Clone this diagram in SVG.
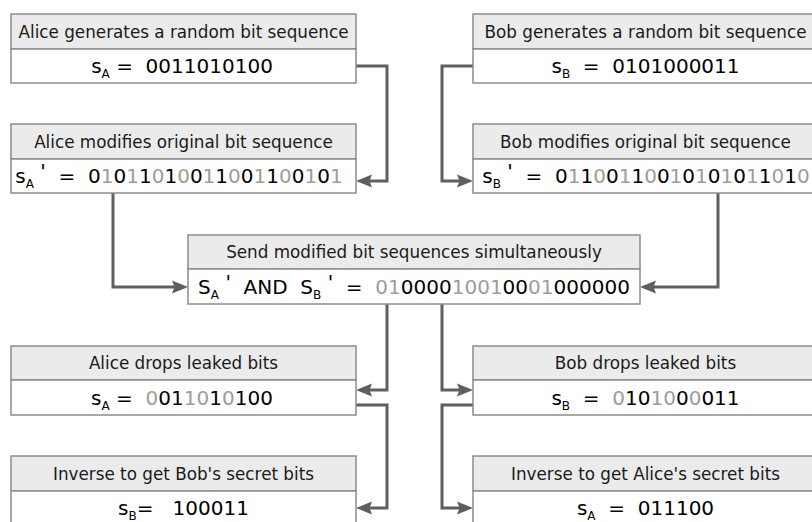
<svg xmlns="http://www.w3.org/2000/svg" width="812" height="522" viewBox="0 0 812 522">
<defs>
<marker id="arr" markerUnits="userSpaceOnUse" markerWidth="18" markerHeight="16" refX="8" refY="8" orient="auto">
<path d="M0,1.5 L16,8 L0,14.5 L2.5,8 z" fill="#5f605c"/>
</marker>
</defs>
<style>
.hd{fill:#ebebeb;stroke:#8c8c8c;stroke-width:1.5}
.vl{fill:#ffffff;stroke:#8c8c8c;stroke-width:1.5}
.ht{font-family:"DejaVu Sans",Verdana,sans-serif;font-size:16.8px;fill:#1a1a1a;text-anchor:middle}
.vt{font-family:"DejaVu Sans",Verdana,sans-serif;font-size:20px;fill:#000000;text-anchor:middle;white-space:pre}
.g{fill:#9c9c9c}
.sub{font-size:12px}
.c{fill:none;stroke:#5f605c;stroke-width:3;marker-end:url(#arr)}
</style>

<g id="connectors">
<path class="c" d="M356,66 H387 V181 H364"/>
<path class="c" d="M473,66 H442 V181 H465"/>
<path class="c" d="M113,193 V287 H180"/>
<path class="c" d="M718,193 V287 H648"/>
<path class="c" d="M387,304 V390 H364"/>
<path class="c" d="M442,304 V390 H465"/>
<path class="c" d="M356,405 H387 V508 H364"/>
<path class="c" d="M473,405 H442 V508 H465"/>
</g>

<g id="alice-generate">
<rect class="hd" x="11" y="14" width="345" height="35"/>
<rect class="vl" x="11" y="49" width="345" height="34"/>
<text class="ht" x="183.5" y="37.5">Alice generates a random bit sequence</text>
<text class="vt" x="182" y="73" xml:space="preserve">s<tspan class="sub" dy="5">A</tspan><tspan dy="-5"> =  0011010100</tspan></text>
</g>

<g id="bob-generate">
<rect class="hd" x="473" y="14" width="345" height="35"/>
<rect class="vl" x="473" y="49" width="345" height="34"/>
<text class="ht" x="645.5" y="37.5">Bob generates a random bit sequence</text>
<text class="vt" x="645.5" y="73" xml:space="preserve">s<tspan class="sub" dy="5">B</tspan><tspan dy="-5">  =  0101000011</tspan></text>
</g>

<g id="alice-modify">
<rect class="hd" x="11" y="124" width="345" height="35"/>
<rect class="vl" x="11" y="159" width="345" height="34"/>
<text class="ht" x="183.5" y="147.5">Alice modifies original bit sequence</text>
<text class="vt" x="179" y="183" xml:space="preserve">s<tspan class="sub" dy="5">A</tspan><tspan dy="-10"> '</tspan><tspan dy="5">  =  </tspan>0<tspan class="g">1</tspan>0<tspan class="g">1</tspan>1<tspan class="g">0</tspan>1<tspan class="g">0</tspan>0<tspan class="g">1</tspan>1<tspan class="g">0</tspan>0<tspan class="g">1</tspan>1<tspan class="g">0</tspan>0<tspan class="g">1</tspan>0<tspan class="g">1</tspan></text>
</g>

<g id="bob-modify">
<rect class="hd" x="473" y="124" width="345" height="35"/>
<rect class="vl" x="473" y="159" width="345" height="34"/>
<text class="ht" x="645.5" y="147.5">Bob modifies original bit sequence</text>
<text class="vt" x="646" y="183" xml:space="preserve">s<tspan class="sub" dy="5">B</tspan><tspan dy="-10"> '</tspan><tspan dy="5">  =  </tspan>0<tspan class="g">1</tspan>1<tspan class="g">0</tspan>0<tspan class="g">1</tspan>1<tspan class="g">0</tspan>0<tspan class="g">1</tspan>0<tspan class="g">1</tspan>0<tspan class="g">1</tspan>0<tspan class="g">1</tspan>1<tspan class="g">0</tspan>1<tspan class="g">0</tspan></text>
</g>

<g id="send">
<rect class="hd" x="188" y="235" width="452" height="34"/>
<rect class="vl" x="188" y="269" width="452" height="35"/>
<text class="ht" x="414" y="258">Send modified bit sequences simultaneously</text>
<text class="vt" x="414" y="294" xml:space="preserve">S<tspan class="sub" dy="5">A</tspan><tspan dy="-10"> '</tspan><tspan dy="5">  AND  S</tspan><tspan class="sub" dy="5">B</tspan><tspan dy="-10"> '</tspan><tspan dy="5">  =  </tspan><tspan class="g">01</tspan>0000<tspan class="g">1001</tspan>00<tspan class="g">01</tspan>000000</text>
</g>

<g id="alice-drop">
<rect class="hd" x="11" y="346" width="345" height="34"/>
<rect class="vl" x="11" y="380" width="345" height="35"/>
<text class="ht" x="183.5" y="369">Alice drops leaked bits</text>
<text class="vt" x="182" y="405" xml:space="preserve">s<tspan class="sub" dy="5">A</tspan><tspan dy="-5"> =  </tspan><tspan class="g">0</tspan>01<tspan class="g">10</tspan>1<tspan class="g">0</tspan>100</text>
</g>

<g id="bob-drop">
<rect class="hd" x="473" y="346" width="345" height="34"/>
<rect class="vl" x="473" y="380" width="345" height="35"/>
<text class="ht" x="645.5" y="369">Bob drops leaked bits</text>
<text class="vt" x="645.5" y="405" xml:space="preserve">s<tspan class="sub" dy="5">B</tspan><tspan dy="-5">  =  </tspan><tspan class="g">0</tspan>10<tspan class="g">10</tspan>0<tspan class="g">0</tspan>011</text>
</g>

<g id="alice-inverse">
<rect class="hd" x="11" y="456" width="345" height="35"/>
<rect class="vl" x="11" y="491" width="345" height="34"/>
<text class="ht" x="183.5" y="479.5">Inverse to get Bob's secret bits</text>
<text class="vt" x="183.5" y="515" xml:space="preserve">s<tspan class="sub" dy="5">B</tspan><tspan dy="-5">=   100011</tspan></text>
</g>

<g id="bob-inverse">
<rect class="hd" x="473" y="456" width="345" height="35"/>
<rect class="vl" x="473" y="491" width="345" height="34"/>
<text class="ht" x="645.5" y="479.5">Inverse to get Alice's secret bits</text>
<text class="vt" x="645.5" y="515" xml:space="preserve">s<tspan class="sub" dy="5">A</tspan><tspan dy="-5">  =  011100</tspan></text>
</g>
</svg>
